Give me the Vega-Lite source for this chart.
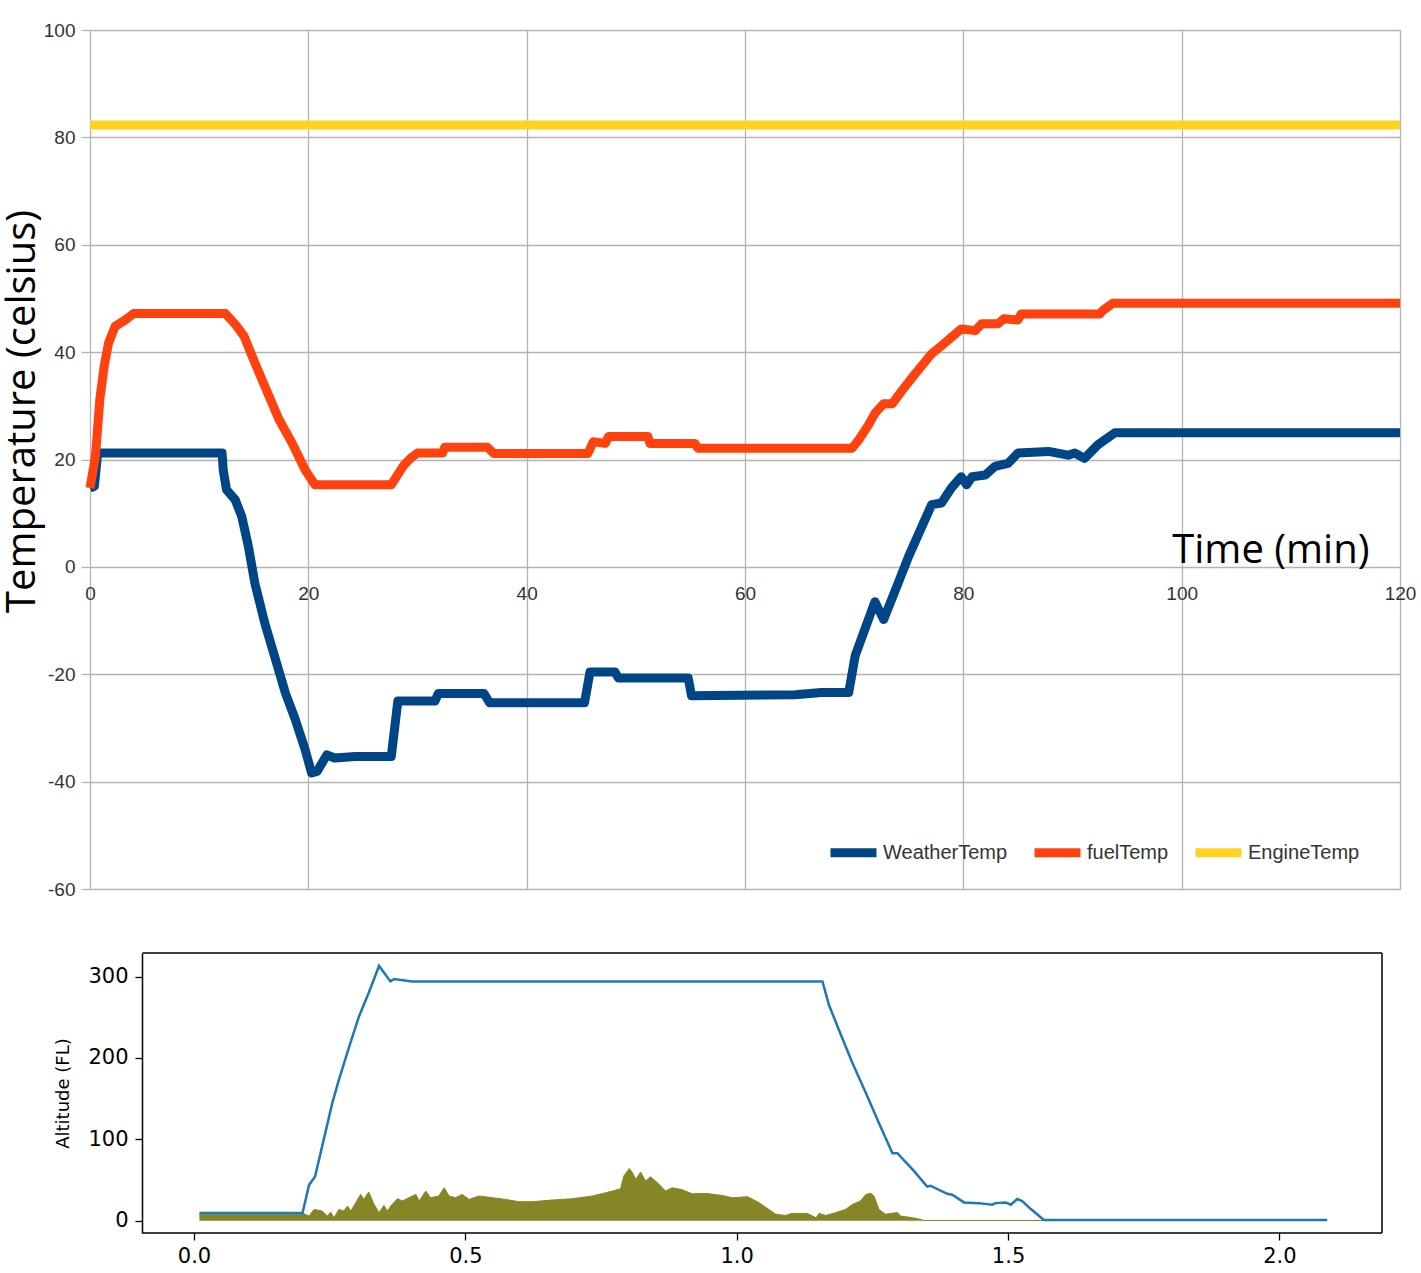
{
  "$schema": "https://vega.github.io/schema/vega-lite/v6.json",
  "background": "white",
  "padding": {"left": 2, "top": 21, "right": 0, "bottom": 0},
  "spacing": 53,
  "datasets": {
    "temps": [
      {"min": 0, "series": "WeatherTemp", "temp": 14.7},
      {"min": 0.4, "series": "WeatherTemp", "temp": 15},
      {"min": 0.7, "series": "WeatherTemp", "temp": 21.2},
      {"min": 12.1, "series": "WeatherTemp", "temp": 21.2},
      {"min": 12.2, "series": "WeatherTemp", "temp": 18.1},
      {"min": 12.5, "series": "WeatherTemp", "temp": 14.4},
      {"min": 13.3, "series": "WeatherTemp", "temp": 12.5},
      {"min": 13.9, "series": "WeatherTemp", "temp": 9.4},
      {"min": 14.5, "series": "WeatherTemp", "temp": 3.9},
      {"min": 15.1, "series": "WeatherTemp", "temp": -3},
      {"min": 16.0, "series": "WeatherTemp", "temp": -10.4},
      {"min": 17.0, "series": "WeatherTemp", "temp": -17.3},
      {"min": 17.9, "series": "WeatherTemp", "temp": -23.5},
      {"min": 18.8, "series": "WeatherTemp", "temp": -28.4},
      {"min": 19.7, "series": "WeatherTemp", "temp": -34},
      {"min": 20.3, "series": "WeatherTemp", "temp": -38.4},
      {"min": 20.8, "series": "WeatherTemp", "temp": -38.1},
      {"min": 21.7, "series": "WeatherTemp", "temp": -35},
      {"min": 22.4, "series": "WeatherTemp", "temp": -35.6},
      {"min": 24.3, "series": "WeatherTemp", "temp": -35.3},
      {"min": 27.6, "series": "WeatherTemp", "temp": -35.3},
      {"min": 28.2, "series": "WeatherTemp", "temp": -25},
      {"min": 31.6, "series": "WeatherTemp", "temp": -25},
      {"min": 31.9, "series": "WeatherTemp", "temp": -23.6},
      {"min": 36.1, "series": "WeatherTemp", "temp": -23.6},
      {"min": 36.6, "series": "WeatherTemp", "temp": -25.3},
      {"min": 45.3, "series": "WeatherTemp", "temp": -25.3},
      {"min": 45.8, "series": "WeatherTemp", "temp": -19.6},
      {"min": 48.1, "series": "WeatherTemp", "temp": -19.6},
      {"min": 48.4, "series": "WeatherTemp", "temp": -20.7},
      {"min": 54.8, "series": "WeatherTemp", "temp": -20.7},
      {"min": 55.1, "series": "WeatherTemp", "temp": -24},
      {"min": 64.6, "series": "WeatherTemp", "temp": -23.8},
      {"min": 67, "series": "WeatherTemp", "temp": -23.4},
      {"min": 69.5, "series": "WeatherTemp", "temp": -23.4},
      {"min": 70.1, "series": "WeatherTemp", "temp": -16.5},
      {"min": 71.0, "series": "WeatherTemp", "temp": -11.5},
      {"min": 71.9, "series": "WeatherTemp", "temp": -6.5},
      {"min": 72.7, "series": "WeatherTemp", "temp": -9.8},
      {"min": 73.8, "series": "WeatherTemp", "temp": -4.2},
      {"min": 75, "series": "WeatherTemp", "temp": 2},
      {"min": 76.2, "series": "WeatherTemp", "temp": 7.5},
      {"min": 77.1, "series": "WeatherTemp", "temp": 11.6},
      {"min": 78, "series": "WeatherTemp", "temp": 11.9},
      {"min": 78.9, "series": "WeatherTemp", "temp": 14.7},
      {"min": 79.8, "series": "WeatherTemp", "temp": 16.8},
      {"min": 80.3, "series": "WeatherTemp", "temp": 15.3},
      {"min": 80.8, "series": "WeatherTemp", "temp": 16.8},
      {"min": 82, "series": "WeatherTemp", "temp": 17.1},
      {"min": 82.9, "series": "WeatherTemp", "temp": 18.7},
      {"min": 84.1, "series": "WeatherTemp", "temp": 19.3},
      {"min": 85, "series": "WeatherTemp", "temp": 21.2},
      {"min": 87.8, "series": "WeatherTemp", "temp": 21.5},
      {"min": 89.6, "series": "WeatherTemp", "temp": 20.8},
      {"min": 90.2, "series": "WeatherTemp", "temp": 21.2},
      {"min": 91.1, "series": "WeatherTemp", "temp": 20.2},
      {"min": 92.3, "series": "WeatherTemp", "temp": 22.7},
      {"min": 93.9, "series": "WeatherTemp", "temp": 25},
      {"min": 120, "series": "WeatherTemp", "temp": 25},
      {"min": 0, "series": "fuelTemp", "temp": 14.7},
      {"min": 0.5, "series": "fuelTemp", "temp": 20.6},
      {"min": 0.9, "series": "fuelTemp", "temp": 31.2},
      {"min": 1.3, "series": "fuelTemp", "temp": 37.4},
      {"min": 1.7, "series": "fuelTemp", "temp": 41.7},
      {"min": 2.3, "series": "fuelTemp", "temp": 44.8},
      {"min": 3.3, "series": "fuelTemp", "temp": 46.1},
      {"min": 4.0, "series": "fuelTemp", "temp": 47.2},
      {"min": 12.4, "series": "fuelTemp", "temp": 47.2},
      {"min": 13.3, "series": "fuelTemp", "temp": 45.2},
      {"min": 14.1, "series": "fuelTemp", "temp": 43},
      {"min": 15.1, "series": "fuelTemp", "temp": 38},
      {"min": 16.0, "series": "fuelTemp", "temp": 33.7},
      {"min": 17.3, "series": "fuelTemp", "temp": 27.5},
      {"min": 18.5, "series": "fuelTemp", "temp": 23.1},
      {"min": 19.7, "series": "fuelTemp", "temp": 18.1},
      {"min": 20.6, "series": "fuelTemp", "temp": 15.3},
      {"min": 27.6, "series": "fuelTemp", "temp": 15.3},
      {"min": 28.7, "series": "fuelTemp", "temp": 18.8},
      {"min": 29.4, "series": "fuelTemp", "temp": 20.3},
      {"min": 30.0, "series": "fuelTemp", "temp": 21.2},
      {"min": 32.3, "series": "fuelTemp", "temp": 21.2},
      {"min": 32.5, "series": "fuelTemp", "temp": 22.3},
      {"min": 36.4, "series": "fuelTemp", "temp": 22.3},
      {"min": 37.0, "series": "fuelTemp", "temp": 21.1},
      {"min": 45.6, "series": "fuelTemp", "temp": 21.1},
      {"min": 46.1, "series": "fuelTemp", "temp": 23.3},
      {"min": 47.2, "series": "fuelTemp", "temp": 23},
      {"min": 47.5, "series": "fuelTemp", "temp": 24.3},
      {"min": 51.1, "series": "fuelTemp", "temp": 24.3},
      {"min": 51.3, "series": "fuelTemp", "temp": 23},
      {"min": 55.4, "series": "fuelTemp", "temp": 23},
      {"min": 55.7, "series": "fuelTemp", "temp": 22.1},
      {"min": 69.8, "series": "fuelTemp", "temp": 22.1},
      {"min": 70.4, "series": "fuelTemp", "temp": 23.6},
      {"min": 71.3, "series": "fuelTemp", "temp": 26.4},
      {"min": 71.9, "series": "fuelTemp", "temp": 28.6},
      {"min": 72.7, "series": "fuelTemp", "temp": 30.4},
      {"min": 73.5, "series": "fuelTemp", "temp": 30.4},
      {"min": 74.4, "series": "fuelTemp", "temp": 32.9},
      {"min": 75.6, "series": "fuelTemp", "temp": 36},
      {"min": 77.1, "series": "fuelTemp", "temp": 39.7},
      {"min": 78, "series": "fuelTemp", "temp": 41.2},
      {"min": 79.1, "series": "fuelTemp", "temp": 43.1},
      {"min": 79.8, "series": "fuelTemp", "temp": 44.3},
      {"min": 81.1, "series": "fuelTemp", "temp": 44},
      {"min": 81.7, "series": "fuelTemp", "temp": 45.3},
      {"min": 83.2, "series": "fuelTemp", "temp": 45.3},
      {"min": 83.7, "series": "fuelTemp", "temp": 46.2},
      {"min": 85, "series": "fuelTemp", "temp": 46},
      {"min": 85.3, "series": "fuelTemp", "temp": 47.1},
      {"min": 92.5, "series": "fuelTemp", "temp": 47.1},
      {"min": 92.8, "series": "fuelTemp", "temp": 47.8},
      {"min": 93.7, "series": "fuelTemp", "temp": 49.1},
      {"min": 120, "series": "fuelTemp", "temp": 49.1},
      {"min": 0, "series": "EngineTemp", "temp": 82.3},
      {"min": 120, "series": "EngineTemp", "temp": 82.3}
    ],
    "altitude": [
      {"t": 0.01, "alt": 9.5}, {"t": 0.2, "alt": 9.5}, {"t": 0.212, "alt": 44},
      {"t": 0.223, "alt": 54}, {"t": 0.236, "alt": 91}, {"t": 0.255, "alt": 145},
      {"t": 0.267, "alt": 173}, {"t": 0.286, "alt": 214}, {"t": 0.304, "alt": 251},
      {"t": 0.322, "alt": 280}, {"t": 0.341, "alt": 313}, {"t": 0.362, "alt": 294},
      {"t": 0.369, "alt": 297}, {"t": 0.402, "alt": 294}, {"t": 1.158, "alt": 294},
      {"t": 1.17, "alt": 265}, {"t": 1.188, "alt": 235}, {"t": 1.213, "alt": 194},
      {"t": 1.238, "alt": 157}, {"t": 1.262, "alt": 120}, {"t": 1.287, "alt": 83},
      {"t": 1.296, "alt": 83}, {"t": 1.324, "alt": 63}, {"t": 1.351, "alt": 42},
      {"t": 1.357, "alt": 43}, {"t": 1.388, "alt": 33}, {"t": 1.397, "alt": 32},
      {"t": 1.419, "alt": 22.5}, {"t": 1.446, "alt": 21.6}, {"t": 1.471, "alt": 19.7},
      {"t": 1.477, "alt": 21.6}, {"t": 1.496, "alt": 22.5}, {"t": 1.505, "alt": 19.7},
      {"t": 1.517, "alt": 26.6}, {"t": 1.526, "alt": 24}, {"t": 1.542, "alt": 14.3},
      {"t": 1.566, "alt": 1}, {"t": 2.088, "alt": 1}
    ],
    "ground": [
      {"t": 0.01, "ground": 8}, {"t": 0.19, "ground": 8}, {"t": 0.2, "ground": 9.4},
      {"t": 0.206, "ground": 7.6}, {"t": 0.212, "ground": 5.7}, {"t": 0.221, "ground": 13.9},
      {"t": 0.236, "ground": 11.9}, {"t": 0.246, "ground": 5.7}, {"t": 0.252, "ground": 10.6},
      {"t": 0.258, "ground": 3.7}, {"t": 0.267, "ground": 13.9}, {"t": 0.276, "ground": 11.9},
      {"t": 0.283, "ground": 18}, {"t": 0.289, "ground": 11.9}, {"t": 0.298, "ground": 22},
      {"t": 0.307, "ground": 32.3}, {"t": 0.313, "ground": 26.2}, {"t": 0.322, "ground": 35.2},
      {"t": 0.332, "ground": 20}, {"t": 0.341, "ground": 9.8}, {"t": 0.35, "ground": 18.8},
      {"t": 0.356, "ground": 11.9}, {"t": 0.365, "ground": 20}, {"t": 0.375, "ground": 27},
      {"t": 0.384, "ground": 24.2}, {"t": 0.396, "ground": 28.3}, {"t": 0.409, "ground": 32.3},
      {"t": 0.415, "ground": 24.2}, {"t": 0.427, "ground": 36.4}, {"t": 0.436, "ground": 28.3},
      {"t": 0.451, "ground": 30.3}, {"t": 0.461, "ground": 40.5}, {"t": 0.47, "ground": 30.3},
      {"t": 0.482, "ground": 28.3}, {"t": 0.494, "ground": 32.3}, {"t": 0.507, "ground": 26.2},
      {"t": 0.525, "ground": 30.3}, {"t": 0.55, "ground": 28.3}, {"t": 0.574, "ground": 26.2},
      {"t": 0.599, "ground": 23.3}, {"t": 0.623, "ground": 23.3}, {"t": 0.66, "ground": 25.4},
      {"t": 0.697, "ground": 27}, {"t": 0.734, "ground": 30.3}, {"t": 0.771, "ground": 36.4},
      {"t": 0.786, "ground": 39.3}, {"t": 0.792, "ground": 54.9}, {"t": 0.802, "ground": 64},
      {"t": 0.808, "ground": 59}, {"t": 0.814, "ground": 50.8}, {"t": 0.823, "ground": 59.8},
      {"t": 0.832, "ground": 48.7}, {"t": 0.841, "ground": 54}, {"t": 0.854, "ground": 46.6},
      {"t": 0.869, "ground": 36.4}, {"t": 0.881, "ground": 40.5}, {"t": 0.9, "ground": 38},
      {"t": 0.918, "ground": 33}, {"t": 0.943, "ground": 33.6}, {"t": 0.973, "ground": 31.1},
      {"t": 0.992, "ground": 28.3}, {"t": 1.02, "ground": 29.5}, {"t": 1.041, "ground": 22.2},
      {"t": 1.072, "ground": 8}, {"t": 1.09, "ground": 6.5}, {"t": 1.102, "ground": 9},
      {"t": 1.13, "ground": 9}, {"t": 1.146, "ground": 3.7}, {"t": 1.152, "ground": 9},
      {"t": 1.164, "ground": 6.5}, {"t": 1.182, "ground": 9.8}, {"t": 1.201, "ground": 14},
      {"t": 1.213, "ground": 20}, {"t": 1.228, "ground": 24.2}, {"t": 1.238, "ground": 32.3},
      {"t": 1.247, "ground": 33.6}, {"t": 1.253, "ground": 30.3}, {"t": 1.262, "ground": 14},
      {"t": 1.274, "ground": 8}, {"t": 1.296, "ground": 10}, {"t": 1.302, "ground": 5.7},
      {"t": 1.324, "ground": 3.7}, {"t": 1.333, "ground": 2.5}, {"t": 1.345, "ground": 0.3},
      {"t": 1.566, "ground": 0.3}
    ]
  },
  "vconcat": [
    {
      "width": 1310,
      "height": 859,
      "data": {"name": "temps"},
      "mark": {"type": "line", "strokeWidth": 9, "strokeJoin": "round"},
      "encoding": {
        "x": {
          "field": "min",
          "type": "quantitative",
          "scale": {"domain": [0, 120], "nice": false, "zero": false},
          "axis": {
            "values": [0, 20, 40, 60, 80, 100, 120],
            "offset": -322,
            "ticks": false,
            "domain": false,
            "labelFlush": false,
            "labelPadding": 17,
            "labelFont": "Liberation Sans",
            "labelFontSize": 19,
            "labelColor": "#333333",
            "gridColor": "#b3b3b3",
            "gridWidth": 1.3,
            "title": "Time (min)",
            "titleFont": "Open Sans",
            "titleFontSize": 40,
            "titleFontWeight": "normal",
            "titleColor": "black",
            "titleX": 1279,
            "titleY": -5,
            "titleAlign": "right",
            "titleBaseline": "alphabetic"
          }
        },
        "y": {
          "field": "temp",
          "type": "quantitative",
          "scale": {"domain": [-60, 100], "nice": false, "zero": false},
          "axis": {
            "values": [-60, -40, -20, 0, 20, 40, 60, 80, 100],
            "labelExpr": "'' + datum.value",
            "tickSize": 9,
            "tickColor": "#b3b3b3",
            "tickWidth": 1.3,
            "domain": false,
            "labelPadding": 6,
            "labelFont": "Liberation Sans",
            "labelFontSize": 19,
            "labelColor": "#333333",
            "gridColor": "#b3b3b3",
            "gridWidth": 1.3,
            "title": "Temperature (celsius)",
            "titleFont": "Open Sans",
            "titleFontSize": 40,
            "titleFontWeight": "normal",
            "titleColor": "black",
            "titleAngle": -90,
            "titleX": -56,
            "titleY": 381,
            "titleAlign": "center",
            "titleBaseline": "alphabetic"
          }
        },
        "color": {
          "field": "series",
          "type": "nominal",
          "scale": {
            "domain": ["WeatherTemp", "fuelTemp", "EngineTemp"],
            "range": ["#004586", "#ff420e", "#ffd320"]
          },
          "legend": {
            "orient": "none",
            "legendX": 736,
            "legendY": 795,
            "direction": "horizontal",
            "title": null,
            "padding": 0,
            "symbolType": "stroke",
            "symbolStrokeWidth": 9,
            "symbolSize": 2116,
            "labelFont": "Liberation Sans",
            "labelFontSize": 20,
            "labelColor": "#333333",
            "labelOffset": 2,
            "columnPadding": 8
          }
        }
      }
    },
    {
      "width": 1292,
      "height": 280,
      "layer": [
        {
          "data": {"name": "ground"},
          "mark": {"type": "area", "color": "#868626", "opacity": 1, "line": {"color": "#868626", "strokeWidth": 1}},
          "encoding": {
            "x": {
              "field": "t",
              "type": "quantitative",
              "scale": {"domain": [-0.1916, 2.189], "nice": false, "zero": false},
              "axis": {
                "values": [0, 0.5, 1, 1.5, 2],
                "format": ".1f",
                "grid": false,
                "domain": false,
                "tickSize": 7,
                "tickWidth": 1.3,
                "tickColor": "black",
                "labelPadding": 5,
                "labelFont": "DejaVu Sans",
                "labelFontSize": 21,
                "labelColor": "black",
                "title": null
              }
            },
            "y": {
              "field": "ground",
              "type": "quantitative",
              "scale": {"domain": [-15.1, 328.9], "nice": false, "zero": false},
              "axis": {
                "values": [0, 100, 200, 300],
                "grid": false,
                "offset": -52,
                "domainColor": "black",
                "domainWidth": 1.5,
                "tickSize": 7,
                "tickWidth": 1.3,
                "tickColor": "black",
                "labelPadding": 7,
                "labelFont": "DejaVu Sans",
                "labelFontSize": 21,
                "labelColor": "black",
                "title": "Altitude (FL)",
                "titleFont": "DejaVu Sans",
                "titleFontSize": 18,
                "titleFontWeight": "normal",
                "titleColor": "black",
                "titleAngle": -90,
                "titleX": -79,
                "titleY": 140,
                "titleAlign": "center",
                "titleBaseline": "middle"
              }
            },
            "y2": {"datum": 0}
          }
        },
        {
          "data": {"name": "altitude"},
          "mark": {"type": "line", "color": "#1f77b4", "strokeWidth": 2.5},
          "encoding": {
            "x": {"field": "t", "type": "quantitative"},
            "y": {"field": "alt", "type": "quantitative", "title": "Altitude (FL)"}
          }
        },
        {
          "data": {"values": [{}]},
          "mark": {"type": "rule", "color": "black", "strokeWidth": 1.5},
          "encoding": {
            "x": {"datum": -0.095, "type": "quantitative"},
            "x2": {"datum": 2.189},
            "y": {"datum": 328.9, "type": "quantitative", "title": "Altitude (FL)"}
          }
        },
        {
          "data": {"values": [{}]},
          "mark": {"type": "rule", "color": "black", "strokeWidth": 1.5},
          "encoding": {
            "x": {"datum": -0.095, "type": "quantitative"},
            "x2": {"datum": 2.189},
            "y": {"datum": -15.1, "type": "quantitative", "title": "Altitude (FL)"}
          }
        },
        {
          "data": {"values": [{}]},
          "mark": {"type": "rule", "color": "black", "strokeWidth": 1.5},
          "encoding": {
            "x": {"datum": 2.189, "type": "quantitative"},
            "y": {"datum": -15.1, "type": "quantitative", "title": "Altitude (FL)"},
            "y2": {"datum": 328.9}
          }
        }
      ]
    }
  ],
  "config": {"view": {"stroke": null}}
}
